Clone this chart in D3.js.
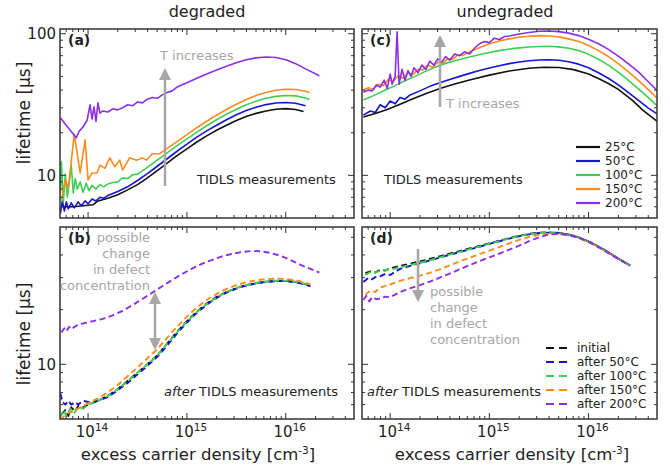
<!DOCTYPE html>
<html>
<head>
<meta charset="utf-8">
<script src="https://cdn.jsdelivr.net/npm/d3@7"></script>
<style>
  body { margin: 0; background: #fff; }
  svg { font-family: "DejaVu Sans", Verdana, sans-serif; }
</style>
</head>
<body>
<svg id="chart" width="670" height="466"></svg>
<script>
// each point: [log10 of excess carrier density, lifetime in µs]
const temps = ['25°C', '50°C', '100°C', '150°C', '200°C'];
const afterLabels = ['initial', 'after 50°C', 'after 100°C', 'after 150°C', 'after 200°C'];
const colors = ['#111111', '#1414d2', '#3ecf52', '#ff8a1c', '#8c2ee6'];

// (a) degraded, TIDLS measurements
const degA25 = [[13.74,6.0],[13.85,6.0],[13.95,6.1],[14.05,6.2],[14.1,6.6],[14.2,6.9],[14.3,7.3],[14.4,7.9],[14.5,8.6],[14.6,9.6],[14.7,10.8],[14.8,12.2],[14.9,13.8],[15.0,15.4],[15.1,17.2],[15.2,19.0],[15.3,20.8],[15.4,22.6],[15.5,24.4],[15.6,26.0],[15.7,27.4],[15.8,28.5],[15.9,29.3],[16.0,29.6],[16.1,29.2],[16.18,28.2]];
const degA50 = [[13.72,5.4],[13.74,6.6],[13.76,5.6],[13.78,6.5],[13.8,5.8],[13.83,6.4],[13.86,5.9],[13.9,6.5],[13.93,6.1],[13.97,6.6],[14.0,6.3],[14.04,6.8],[14.08,6.6],[14.12,7.0],[14.16,6.9],[14.2,7.2],[14.3,7.7],[14.4,8.3],[14.5,9.2],[14.6,10.3],[14.7,11.6],[14.8,13.1],[14.9,14.8],[15.0,16.6],[15.1,18.6],[15.2,20.6],[15.3,22.6],[15.4,24.7],[15.5,26.8],[15.6,28.7],[15.7,30.3],[15.8,31.6],[15.9,32.4],[16.0,32.7],[16.1,32.3],[16.2,31.0]];
const degA100 = [[13.72,7.5],[13.73,12.5],[13.75,6.5],[13.77,10.2],[13.79,7.0],[13.81,9.0],[13.83,11.8],[13.85,7.5],[13.87,9.5],[13.89,8.0],[13.92,9.0],[13.95,7.6],[13.98,8.8],[14.01,7.8],[14.04,8.5],[14.08,8.0],[14.12,8.6],[14.16,8.3],[14.2,8.7],[14.25,8.9],[14.3,9.0],[14.35,9.6],[14.4,9.5],[14.45,10.1],[14.5,10.2],[14.6,11.4],[14.7,12.8],[14.8,14.4],[14.9,16.2],[15.0,18.1],[15.1,20.2],[15.2,22.4],[15.3,24.7],[15.4,27.0],[15.5,29.3],[15.6,31.5],[15.7,33.4],[15.8,35.0],[15.9,36.1],[16.0,36.6],[16.1,36.4],[16.2,35.2],[16.24,34.3]];
const degA150 = [[13.73,6.7],[13.77,9.3],[13.8,8.1],[13.86,19.5],[13.92,10.4],[13.97,17.8],[14.0,9.3],[14.04,10.4],[14.09,10.4],[14.12,11.8],[14.17,11.2],[14.22,13.3],[14.27,11.5],[14.32,12.8],[14.35,10.9],[14.42,13.3],[14.49,12.8],[14.55,13.3],[14.59,12.8],[14.65,14.2],[14.72,14.2],[14.8,15.5],[14.9,17.3],[15.0,19.4],[15.1,21.7],[15.2,24.1],[15.3,26.6],[15.4,29.2],[15.5,31.8],[15.6,34.3],[15.7,36.6],[15.8,38.5],[15.9,39.9],[16.0,40.6],[16.1,40.4],[16.2,39.2],[16.24,38.3]];
const degA200 = [[13.72,25.5],[13.78,22.5],[13.84,20.0],[13.88,18.4],[13.91,20.5],[13.95,22.0],[13.99,24.5],[14.02,31.5],[14.04,25.0],[14.06,30.5],[14.08,24.0],[14.1,32.5],[14.12,27.5],[14.15,28.5],[14.2,28.0],[14.25,29.5],[14.3,29.0],[14.35,30.0],[14.4,31.5],[14.45,31.0],[14.5,33.0],[14.55,32.5],[14.6,34.5],[14.65,35.5],[14.7,35.0],[14.75,37.0],[14.8,38.5],[14.85,39.5],[14.9,42.0],[15.0,45.0],[15.1,48.5],[15.2,52.0],[15.3,55.5],[15.4,59.0],[15.5,62.5],[15.6,65.5],[15.7,67.5],[15.8,68.5],[15.9,68.0],[16.0,65.5],[16.1,61.5],[16.2,56.5],[16.34,50.5]];

// (b) degraded, after TIDLS measurements
const degB25 = [[13.73,5.3],[13.77,5.6],[13.8,5.2],[13.83,5.8],[13.87,5.5],[13.9,5.9],[13.95,5.8],[14.0,6.0],[14.1,6.3],[14.2,6.7],[14.3,7.3],[14.4,8.1],[14.5,9.0],[14.6,10.0],[14.7,11.2],[14.8,13.0],[14.9,15.1],[15.0,17.3],[15.1,19.5],[15.2,21.6],[15.3,23.5],[15.4,25.0],[15.5,26.3],[15.6,27.3],[15.7,28.0],[15.8,28.5],[15.9,28.8],[16.0,28.8],[16.1,28.4],[16.2,27.6],[16.25,27.0]];
const degB50 = [[13.72,6.9],[13.74,6.2],[13.77,6.0],[13.8,6.3],[13.83,6.0],[13.87,6.2],[13.9,6.0],[13.95,6.3],[14.0,6.2],[14.1,6.3],[14.2,6.6],[14.3,7.2],[14.4,7.9],[14.5,8.8],[14.6,9.8],[14.7,11.0],[14.8,12.7],[14.9,14.8],[15.0,17.0],[15.1,19.2],[15.2,21.3],[15.3,23.2],[15.4,24.8],[15.5,26.1],[15.6,27.1],[15.7,27.9],[15.8,28.4],[15.9,28.7],[16.0,28.7],[16.1,28.3],[16.2,27.5],[16.25,26.9]];
const degB100 = [[13.72,5.1],[13.75,5.6],[13.78,5.2],[13.82,5.7],[13.86,5.4],[13.9,5.8],[13.95,5.7],[14.0,6.0],[14.1,6.3],[14.2,6.7],[14.3,7.3],[14.4,8.1],[14.5,9.0],[14.6,10.0],[14.7,11.2],[14.8,13.0],[14.9,15.0],[15.0,17.2],[15.1,19.4],[15.2,21.5],[15.3,23.4],[15.4,25.0],[15.5,26.3],[15.6,27.3],[15.7,28.1],[15.8,28.6],[15.9,28.9],[16.0,28.9],[16.1,28.5],[16.2,27.7],[16.25,27.1]];
const degB150 = [[13.72,4.95],[13.76,5.2],[13.8,5.4],[13.85,5.5],[13.9,5.7],[13.95,5.9],[14.0,6.1],[14.1,6.5],[14.2,7.0],[14.3,7.7],[14.4,8.6],[14.5,9.6],[14.6,10.8],[14.7,12.1],[14.8,14.0],[14.9,16.1],[15.0,18.3],[15.1,20.5],[15.2,22.6],[15.3,24.4],[15.4,26.0],[15.5,27.3],[15.6,28.3],[15.7,29.0],[15.8,29.4],[15.9,29.6],[16.0,29.5],[16.1,29.0],[16.2,28.1],[16.25,27.5]];
const degB200 = [[13.73,15.0],[13.76,15.8],[13.78,15.2],[13.81,16.1],[13.83,15.6],[13.88,16.3],[13.95,16.8],[14.05,17.3],[14.15,17.8],[14.25,18.6],[14.35,19.7],[14.45,21.2],[14.55,22.9],[14.65,24.8],[14.75,26.9],[14.85,29.1],[14.95,31.4],[15.05,33.6],[15.15,35.7],[15.25,37.5],[15.35,39.2],[15.45,40.5],[15.55,41.5],[15.65,42.0],[15.75,41.9],[15.85,41.0],[15.95,39.5],[16.05,37.5],[16.15,35.3],[16.25,33.5],[16.34,32.0]];

// (c) undegraded, TIDLS measurements
const undC25 = [[13.73,25.8],[13.85,27.3],[13.97,29.2],[14.1,31.8],[14.23,34.8],[14.37,38.0],[14.51,41.2],[14.65,44.2],[14.8,47.2],[15.0,51.0],[15.2,54.5],[15.4,57.0],[15.55,58.0],[15.7,57.8],[15.85,55.8],[16.0,52.0],[16.1,48.3],[16.2,44.5],[16.3,40.5],[16.44,34.0],[16.55,28.8],[16.71,23.5]];
const undC50 = [[13.73,26.6],[13.8,28.5],[13.85,27.8],[13.9,31.5],[13.95,30.0],[14.0,33.5],[14.05,32.0],[14.1,35.5],[14.15,34.5],[14.2,37.0],[14.3,39.5],[14.4,42.5],[14.5,45.0],[14.6,47.5],[14.7,50.0],[14.8,52.5],[14.9,55.0],[15.0,57.3],[15.1,59.5],[15.2,61.5],[15.3,63.2],[15.4,64.5],[15.5,65.3],[15.6,65.5],[15.7,65.0],[15.8,63.5],[15.9,61.0],[16.0,57.5],[16.1,53.0],[16.2,48.5],[16.3,43.5],[16.4,38.5],[16.5,34.0],[16.6,30.0],[16.71,26.6]];
const undC100 = [[13.73,34.0],[13.85,37.0],[13.95,40.0],[14.05,43.0],[14.15,46.5],[14.25,50.0],[14.35,54.0],[14.45,58.0],[14.55,61.5],[14.65,64.5],[14.8,68.5],[14.95,72.5],[15.1,76.0],[15.25,78.8],[15.4,80.5],[15.5,81.2],[15.6,81.5],[15.7,80.8],[15.8,79.0],[15.9,76.0],[16.0,71.5],[16.1,66.0],[16.2,60.0],[16.3,53.5],[16.4,47.0],[16.5,41.0],[16.6,35.5],[16.71,30.2]];
const undC150 = [[13.73,40.0],[13.78,41.5],[13.83,40.5],[13.88,44.0],[13.93,43.0],[13.98,47.5],[14.03,46.0],[14.08,50.5],[14.13,48.5],[14.18,53.0],[14.23,51.5],[14.28,56.0],[14.33,55.5],[14.38,60.0],[14.43,58.0],[14.48,63.0],[14.53,62.0],[14.58,66.5],[14.63,66.0],[14.68,71.0],[14.73,70.0],[14.8,74.5],[14.9,79.5],[15.0,85.0],[15.1,89.0],[15.2,92.0],[15.3,94.5],[15.4,96.0],[15.5,97.0],[15.6,96.5],[15.7,95.0],[15.8,92.0],[15.9,88.0],[16.0,82.5],[16.1,76.0],[16.2,69.0],[16.3,61.5],[16.4,54.0],[16.5,47.0],[16.6,40.5],[16.71,34.0]];
const undC200 = [[13.73,38.6],[13.78,40.0],[13.82,39.5],[13.86,43.5],[13.9,42.0],[13.94,47.0],[13.97,41.0],[14.0,52.0],[14.02,44.0],[14.05,50.0],[14.07,103.0],[14.09,44.0],[14.12,56.0],[14.15,47.0],[14.18,55.0],[14.21,50.0],[14.24,57.5],[14.28,53.0],[14.32,60.0],[14.36,56.0],[14.4,64.0],[14.44,60.0],[14.48,66.5],[14.52,63.0],[14.56,69.0],[14.6,65.0],[14.65,72.0],[14.7,70.0],[14.75,74.5],[14.8,72.0],[14.85,79.0],[14.9,85.0],[14.95,88.0],[15.0,86.5],[15.05,93.0],[15.1,91.0],[15.15,95.5],[15.2,96.5],[15.3,99.5],[15.4,102.0],[15.5,104.0],[15.6,104.5],[15.7,103.5],[15.8,101.0],[15.9,97.0],[16.0,91.5],[16.1,85.0],[16.2,77.5],[16.3,69.5],[16.4,61.5],[16.5,54.0],[16.6,46.0],[16.71,38.6]];

// (d) undegraded, after TIDLS measurements
const undD25 = [[13.75,31.8],[13.8,32.5],[13.85,32.0],[13.9,33.2],[13.95,32.8],[14.0,33.8],[14.1,34.8],[14.2,35.8],[14.3,36.8],[14.4,38.0],[14.5,39.3],[14.6,40.7],[14.7,42.0],[14.8,43.4],[14.9,44.8],[15.0,46.3],[15.1,47.9],[15.2,49.5],[15.3,51.0],[15.4,52.2],[15.5,53.0],[15.6,53.2],[15.7,52.8],[15.8,51.8],[15.9,50.0],[16.0,47.5],[16.1,44.5],[16.2,41.3],[16.3,38.2],[16.42,35.0]];
const undD50 = [[13.73,28.4],[13.77,29.6],[13.8,29.0],[13.85,30.2],[13.9,30.5],[13.95,31.5],[14.0,31.0],[14.05,32.3],[14.1,33.5],[14.2,34.8],[14.3,36.0],[14.4,37.3],[14.5,38.7],[14.6,40.1],[14.7,41.5],[14.8,42.9],[14.9,44.4],[15.0,46.0],[15.1,47.6],[15.2,49.2],[15.3,50.7],[15.4,51.9],[15.5,52.8],[15.6,53.1],[15.7,52.8],[15.8,51.8],[15.9,50.0],[16.0,47.5],[16.1,44.5],[16.2,41.3],[16.3,38.2],[16.42,35.0]];
const undD100 = [[13.75,31.0],[13.8,32.2],[13.85,32.0],[13.9,32.8],[14.0,33.2],[14.1,34.2],[14.2,35.2],[14.3,36.2],[14.4,37.4],[14.5,38.8],[14.6,40.2],[14.7,41.6],[14.8,43.0],[14.9,44.5],[15.0,46.1],[15.1,47.7],[15.2,49.3],[15.3,50.8],[15.4,52.0],[15.5,52.8],[15.6,53.0],[15.7,52.6],[15.8,51.6],[15.9,49.8],[16.0,47.3],[16.1,44.3],[16.2,41.1],[16.3,38.0],[16.42,34.9]];
const undD150 = [[13.75,24.1],[13.8,25.5],[13.85,25.0],[13.9,26.5],[14.0,27.5],[14.1,28.8],[14.2,29.8],[14.3,30.8],[14.4,31.9],[14.5,33.3],[14.6,35.0],[14.7,36.8],[14.8,38.6],[14.9,40.4],[15.0,42.2],[15.1,44.2],[15.2,46.3],[15.3,48.4],[15.4,50.3],[15.5,51.6],[15.6,52.2],[15.7,52.0],[15.8,51.2],[15.9,49.6],[16.0,47.1],[16.1,44.2],[16.2,41.1],[16.3,38.0],[16.42,34.8]];
const undD200 = [[13.73,22.6],[13.76,23.8],[13.79,22.2],[13.82,23.5],[13.86,22.8],[13.9,23.0],[13.95,23.6],[14.0,23.4],[14.05,24.2],[14.1,25.0],[14.2,26.2],[14.3,27.3],[14.4,28.5],[14.5,30.0],[14.6,31.6],[14.7,33.3],[14.8,35.2],[14.9,37.0],[15.0,38.8],[15.1,40.7],[15.2,42.8],[15.3,45.0],[15.4,47.6],[15.5,50.0],[15.6,51.8],[15.7,52.3],[15.8,51.5],[15.9,49.8],[16.0,47.2],[16.1,44.2],[16.2,41.0],[16.3,38.0],[16.42,35.0]];

const xDomain = [5.2e13, 4.9e16];
const xMajor = [14, 15, 16];
const topYDomain = [5, 108];
const bottomYDomain = [5, 57];

const svg = d3.select('#chart');
const frameColor = '#333';
const textColor = '#222';
const noteColor = '#a6a6a6';

const panels = [
  { name: '(a)', x0: 60, x1: 354, y0: 29, y1: 218, yDomain: topYDomain, series: [degA25, degA50, degA100, degA150, degA200], dashed: false, yLabels: true, xLabels: false },
  { name: '(b)', x0: 60, x1: 354, y0: 227, y1: 419, yDomain: bottomYDomain, series: [degB25, degB50, degB100, degB150, degB200], dashed: true, yLabels: true, xLabels: true },
  { name: '(c)', x0: 362, x1: 657, y0: 29, y1: 218, yDomain: topYDomain, series: [undC25, undC50, undC100, undC150, undC200], dashed: false, yLabels: false, xLabels: false },
  { name: '(d)', x0: 362, x1: 657, y0: 227, y1: 419, yDomain: bottomYDomain, series: [undD25, undD50, undD100, undD150, undD200], dashed: true, yLabels: false, xLabels: true }
];

function minorValues(lo, hi) {
  const out = [];
  for (let e = Math.floor(Math.log10(lo)); e <= Math.ceil(Math.log10(hi)); e++) {
    for (let m = 1; m < 10; m++) {
      const v = m * Math.pow(10, e);
      if (v > lo * 1.001 && v < hi * 0.999) out.push(v);
    }
  }
  return out;
}

panels.forEach((p, pi) => {
  const x = d3.scaleLog().domain(xDomain).range([p.x0, p.x1]);
  const y = d3.scaleLog().domain(p.yDomain).range([p.y1, p.y0]);
  const g = svg.append('g');

  const clipId = 'clip' + pi;
  svg.append('clipPath').attr('id', clipId)
    .append('rect').attr('x', p.x0).attr('y', p.y0)
    .attr('width', p.x1 - p.x0).attr('height', p.y1 - p.y0);

  // curves
  const line = d3.line().x(d => x(Math.pow(10, d[0]))).y(d => y(d[1]));
  const lines = g.append('g').attr('clip-path', `url(#${clipId})`);
  p.series.forEach((s, i) => {
    lines.append('path')
      .attr('d', line(s))
      .attr('fill', 'none')
      .attr('stroke', colors[i])
      .attr('stroke-width', p.dashed ? 1.9 : 1.6)
      .attr('stroke-dasharray', p.dashed ? '6,3.5' : null)
      .attr('stroke-linejoin', 'round');
  });

  // ticks, pointing inwards on all four sides
  const xMinor = minorValues(xDomain[0], xDomain[1]);
  const yMinor = minorValues(p.yDomain[0], p.yDomain[1]);
  const ticks = g.append('g').attr('stroke', frameColor).attr('stroke-width', 1);
  xMinor.forEach(v => {
    const major = Math.abs(Math.log10(v) - Math.round(Math.log10(v))) < 1e-9;
    const len = major ? 6 : 3;
    ticks.append('line').attr('x1', x(v)).attr('x2', x(v)).attr('y1', p.y1).attr('y2', p.y1 - len);
    ticks.append('line').attr('x1', x(v)).attr('x2', x(v)).attr('y1', p.y0).attr('y2', p.y0 + len);
  });
  yMinor.forEach(v => {
    const major = Math.abs(Math.log10(v) - Math.round(Math.log10(v))) < 1e-9;
    const len = major ? 6 : 3;
    ticks.append('line').attr('x1', p.x0).attr('x2', p.x0 + len).attr('y1', y(v)).attr('y2', y(v));
    ticks.append('line').attr('x1', p.x1).attr('x2', p.x1 - len).attr('y1', y(v)).attr('y2', y(v));
  });

  g.append('rect')
    .attr('x', p.x0).attr('y', p.y0)
    .attr('width', p.x1 - p.x0).attr('height', p.y1 - p.y0)
    .attr('fill', 'none').attr('stroke', frameColor).attr('stroke-width', 1.5);

  if (p.yLabels) {
    [10, 100].filter(v => v < p.yDomain[1]).forEach(v => {
      g.append('text').attr('x', p.x0 - 4).attr('y', y(v)).attr('dy', '0.35em')
        .attr('text-anchor', 'end').attr('font-size', 15).attr('fill', textColor).text(v);
    });
  }
  if (p.xLabels) {
    xMajor.forEach(e => {
      const t = g.append('text').attr('x', x(Math.pow(10, e)) + 4).attr('y', p.y1 + 18)
        .attr('text-anchor', 'middle').attr('font-size', 15).attr('fill', textColor);
      t.append('tspan').text('10');
      t.append('tspan').attr('dy', -6).attr('font-size', 10.5).text(e);
    });
  }

  g.append('text').attr('x', p.x0 + 8).attr('y', p.y0 + 16)
    .attr('font-size', 14).attr('font-weight', 'bold').attr('fill', textColor).text(p.name);
});

// column titles and axis titles
svg.append('text').attr('x', 207).attr('y', 17).attr('text-anchor', 'middle')
  .attr('font-size', 16).attr('fill', textColor).text('degraded');
svg.append('text').attr('x', 505).attr('y', 17).attr('text-anchor', 'middle')
  .attr('font-size', 16).attr('fill', textColor).text('undegraded');
[113, 334].forEach(cy => {
  svg.append('text').attr('transform', `translate(24,${cy}) rotate(-90)`)
    .attr('text-anchor', 'middle').attr('dy', '0.35em')
    .attr('font-size', 17).attr('fill', textColor).text('lifetime [µs]');
});
[198, 512].forEach(cx => {
  const t = svg.append('text').attr('x', cx).attr('y', 460).attr('text-anchor', 'middle')
    .attr('font-size', 16.5).attr('fill', textColor);
  t.append('tspan').text('excess carrier density [cm');
  t.append('tspan').attr('dy', -6).attr('font-size', 10.5).text('-3');
  t.append('tspan').attr('dy', 6).text(']');
});

// gray arrows
function arrow(xp, yFrom, yTo, twoHeads) {
  const dir = yTo < yFrom ? -1 : 1;
  const head = 12, half = 6;
  const g = svg.append('g').attr('fill', noteColor).attr('stroke', noteColor);
  const start = twoHeads ? yFrom + dir * head : yFrom;
  g.append('line').attr('x1', xp).attr('x2', xp).attr('y1', start).attr('y2', yTo - dir * head)
    .attr('stroke-width', 2.5);
  g.append('path').attr('stroke', 'none')
    .attr('d', `M${xp},${yTo} L${xp - half},${yTo - dir * head} L${xp + half},${yTo - dir * head} Z`);
  if (twoHeads) {
    g.append('path').attr('stroke', 'none')
      .attr('d', `M${xp},${yFrom} L${xp - half},${yFrom + dir * head} L${xp + half},${yFrom + dir * head} Z`);
  }
}
arrow(165, 186, 68, false);
arrow(155, 292, 350, true);
arrow(440, 107, 35, false);
arrow(418, 249, 302, false);

function note(xp, yp, text, anchor) {
  svg.append('text').attr('x', xp).attr('y', yp).attr('text-anchor', anchor)
    .attr('font-size', 13).attr('fill', noteColor).text(text);
}
note(160, 60, 'T increases', 'start');
note(446, 108, 'T increases', 'start');
['possible', 'change', 'in defect', 'concentration'].forEach((s, i) => {
  note(150, 242 + i * 16, s, 'end');
  note(430, 296 + i * 16, s, 'start');
});

// measurement labels
svg.append('text').attr('x', 197).attr('y', 184).attr('font-size', 13).attr('fill', textColor).text('TIDLS measurements');
svg.append('text').attr('x', 384).attr('y', 184).attr('font-size', 13).attr('fill', textColor).text('TIDLS measurements');
[[338, 'end'], [367, 'start']].forEach(([xp, anchor]) => {
  const t = svg.append('text').attr('x', xp).attr('y', 396).attr('text-anchor', anchor)
    .attr('font-size', 13).attr('fill', textColor);
  t.append('tspan').attr('font-style', 'italic').text('after');
  t.append('tspan').text(' TIDLS measurements');
});

// legends
const legC = svg.append('g');
temps.forEach((t, i) => {
  const yy = 147 + i * 14;
  legC.append('line').attr('x1', 576).attr('x2', 600).attr('y1', yy).attr('y2', yy)
    .attr('stroke', colors[i]).attr('stroke-width', 2.2);
  legC.append('text').attr('x', 605).attr('y', yy).attr('dy', '0.35em')
    .attr('font-size', 12).attr('fill', textColor).text(t);
});
const legD = svg.append('g');
afterLabels.forEach((t, i) => {
  const yy = 348 + i * 14;
  legD.append('line').attr('x1', 546).attr('x2', 570).attr('y1', yy).attr('y2', yy)
    .attr('stroke', colors[i]).attr('stroke-width', 2.2).attr('stroke-dasharray', '8,5');
  legD.append('text').attr('x', 577).attr('y', yy).attr('dy', '0.35em')
    .attr('font-size', 12).attr('fill', textColor).text(t);
});
</script>
</body>
</html>
